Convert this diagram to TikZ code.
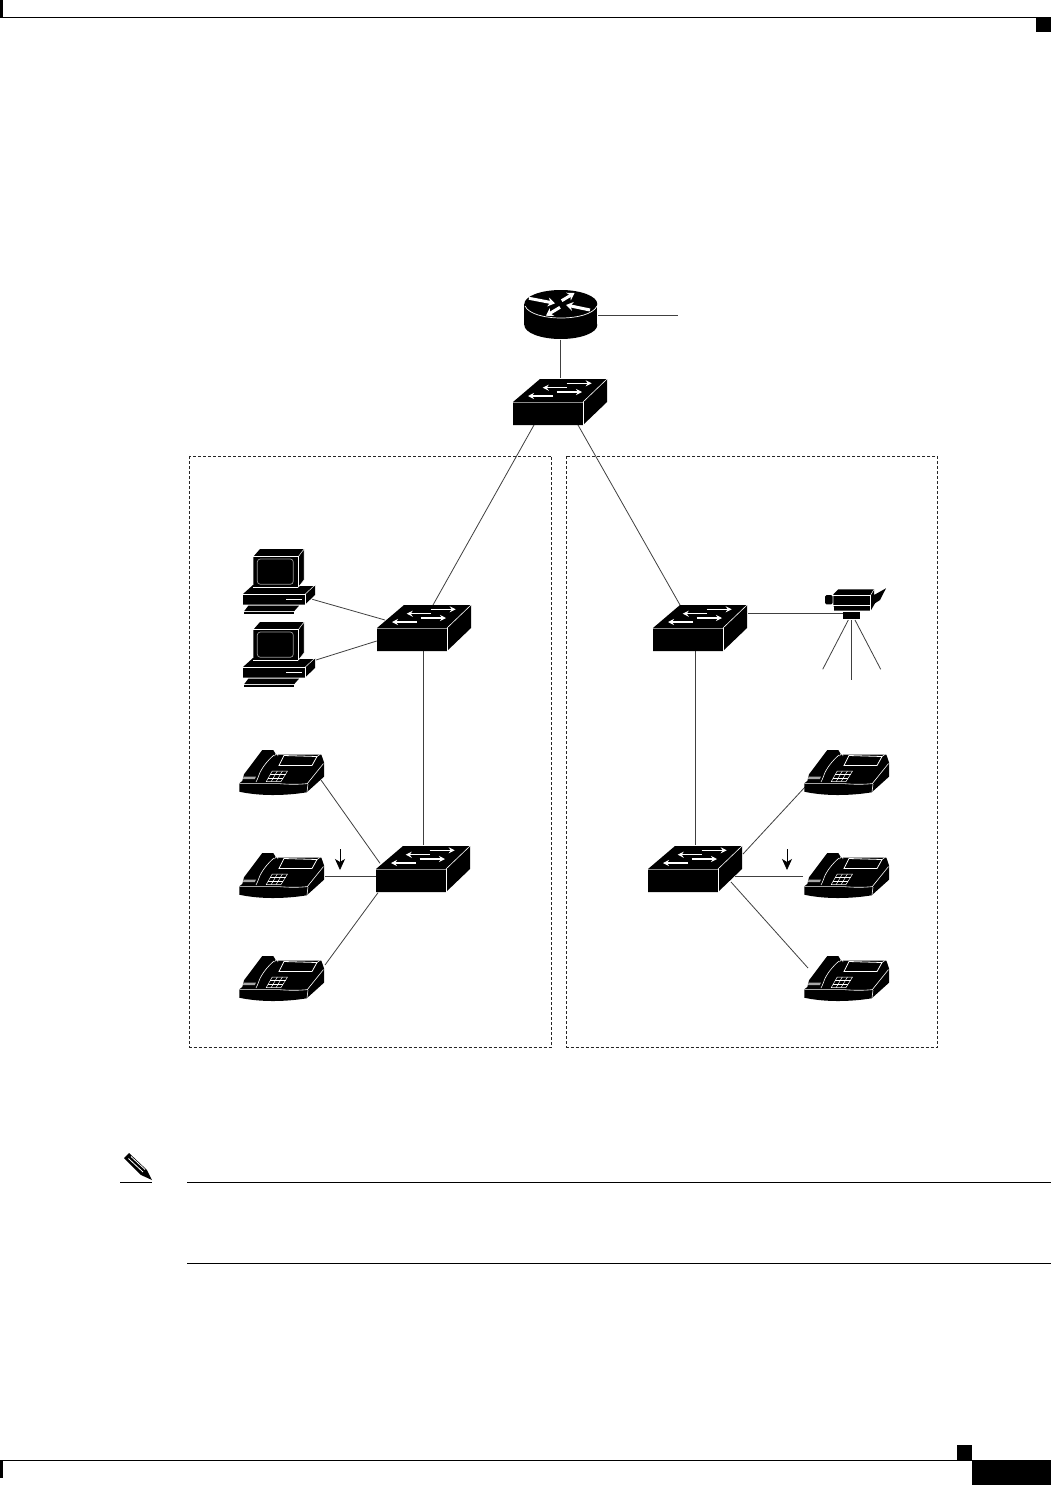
\documentclass[tikz,border=0pt]{standalone}
\usetikzlibrary{arrows.meta}
\tikzset{
  link/.style={draw=black!75,line width=0.8pt},
  zone/.style={draw=black!85,line width=0.6pt,dash pattern=on 3pt off 2pt},
  rule/.style={draw=black,line width=1.1pt},
  wedge/.style={white,line width=1.1pt,-{Stealth[length=6pt,width=6pt]}},
  bigwedge/.style={white,line width=3pt,-{Stealth[length=7pt,width=9pt]}},
  iconbox/.style={inner sep=0pt,outer sep=0pt,draw=none,fill=none},
  pics/swicon/.style={code={
    \fill[black] (0,0)--(27,-23)--(94,-23)--(94,0)--(70,23)--(0,23)--cycle;
    \draw[black!45,line width=.9pt] (0,0)--(70,0);
    \draw[white,line width=.6pt] (70,0)--(70,23);
    \draw[white,line width=.6pt] (70,0)--(94,-23);
    \draw[wedge] (53.7,-18.7)--(78.7,-18.7);
    \draw[wedge] (54,-14.3)--(29.7,-14.3);
    \draw[wedge] (43.7,-10)--(69,-10);
    \draw[wedge] (40,-6)--(15,-6);
  }},
  pics/pcicon/.style={code={
    % base
    \fill[black] (0,0)--(10,-9)--(72,-9)--(72,1)--(62,10.5)--(0,10.5)--cycle;
    \draw[white,line width=.5pt] (0,.3)--(62,.3)--(62,10.5);
    \draw[white,line width=.5pt] (62,.3)--(72,-9);
    \draw[white,line width=.5pt] (55,-9)--(72,-9);
    \fill[white] (43,5) rectangle (59.3,6.4);
    % monitor
    \fill[black] (10.3,-37.3)--(17,-45)--(61,-45)--(61,-14)--(55.3,-6.7)--(10.3,-6.7)--cycle;
    \draw[white,line width=.5pt] (10.3,-37.3)--(55.3,-37.3)--(55.3,-6.7);
    \draw[white,line width=.5pt] (55.3,-37.3)--(61,-45)--(61,-14)--(55.3,-6.7);
    \draw[white,line width=.5pt] (10.3,-6.7)--(55.3,-6.7);
    \draw[black!40,line width=.7pt,rounded corners=3pt] (14.3,-35) rectangle (50.3,-9.7);
    % keyboard
    \fill[black] (5.3,11.7)--(56,11.7)--(51.3,17)--(1.3,17)--cycle;
    \fill[black] (1.3,18.3) rectangle (51.3,19.7);
  }},
  pics/phoneicon/.style={code={
    \fill[black] (0.3,34.3)--(3.3,32)--(5,25.3)--(23.3,1)--(34.3,1)--(37,5.5)--(82.3,5.5)--(85,13.3)--(85,27.7)--(67.7,43.3)
       .. controls (45,47) and (20,47) .. (0.3,42.7)--cycle;
    \draw[white,line width=.6pt] (0.3,34.6)--(40,34.6) .. controls (50,35.5) and (60,35.5) .. (68.3,34.6)--(84.5,14.5);
    \draw[white,line width=.6pt] (69,35)--(68,43);
    \draw[white,line width=.6pt] (35,6) .. controls (28,12) and (22,20) .. (20,26) .. controls (19,29) and (18,31) .. (17,33);
    \fill[black!35] (4.5,27.5)--(17,27.5)--(15.8,30)--(4,30)--cycle;
    \draw[white,line width=.8pt,fill=black] (45,6.5)--(78,7.5)--(73,16.5)--(40,16.5)--cycle;
    \draw[white,line width=.5pt] (78,7.5)--(81,5.5);
    \draw[white,line width=.5pt] (35.5,7)--(38,3.5)--(39,7);
    \draw[white,line width=.5pt] (33.3,22)--(48.5,22)--(42,32.5)--(27.3,32.5)--cycle;
    \draw[white,line width=.5pt] (31,25.5)--(46.5,25.5) (29,29)--(44,29);
    \draw[white,line width=.5pt] (38.3,22)--(32.2,32.5) (43.4,22)--(37.1,32.5);
  }},
}
\begin{document}
\begin{tikzpicture}[x=1pt,y=-1pt]
\useasboundingbox (0,0) rectangle (1051,1485);
\fill[white] (0,0) rectangle (1051,1485);
% page furniture
\fill[black] (0,0) rectangle (3,17.8);
\draw[rule] (3,17.3)--(1051,17.3);
\fill[black] (1036,17) rectangle (1051,32);
\fill[black] (0,1460) rectangle (3,1478);
\draw[rule] (3,1460.5)--(972,1460.5);
\fill[black] (957,1445) rectangle (972,1460);
\fill[black] (972,1460) rectangle (1051,1485);
% note
\fill[black] (124,1158)--(129,1153)--(147,1170)--(152,1180)--(141,1175)--cycle;
\draw[white,line width=.8pt] (128.5,1158.5)--(143,1172);
\draw[white,line width=.8pt] (131,1156.5)--(145,1169.5);
\draw[rule] (120,1182.5)--(152,1182.5);
\draw[rule] (187,1182.5)--(1051,1182.5);
\draw[rule] (187,1263.5)--(1051,1263.5);
% zones
\draw[zone] (189.6,456) rectangle (551.6,1047);
\draw[zone] (566.6,456) rectangle (937.5,1047);
% icon holders
\node[iconbox,minimum width=73pt,minimum height=49pt] (router) at (561,315) {};
\node[iconbox,minimum width=94pt,minimum height=46pt] (sw1) at (560,402) {};
\node[iconbox,minimum width=94pt,minimum height=46pt] (sw2) at (424,628) {};
\node[iconbox,minimum width=94pt,minimum height=46pt] (sw3) at (423,869) {};
\node[iconbox,minimum width=94pt,minimum height=46pt] (sw4) at (700,628) {};
\node[iconbox,minimum width=94pt,minimum height=46pt] (sw5) at (695,869) {};
\node[iconbox,minimum width=72pt,minimum height=65pt] (pc1) at (279,581) {};
\node[iconbox,minimum width=72pt,minimum height=65pt] (pc2) at (279,654) {};
\node[iconbox,minimum width=85pt,minimum height=46pt] (ph1) at (281.5,772) {};
\node[iconbox,minimum width=85pt,minimum height=46pt] (ph2) at (281.5,875) {};
\node[iconbox,minimum width=85pt,minimum height=46pt] (ph3) at (281.5,978) {};
\node[iconbox,minimum width=85pt,minimum height=46pt] (ph4) at (846.5,772) {};
\node[iconbox,minimum width=85pt,minimum height=46pt] (ph5) at (846.5,875) {};
\node[iconbox,minimum width=85pt,minimum height=46pt] (ph6) at (846.5,978) {};
\node[iconbox,minimum width=61pt,minimum height=31pt] (cam) at (855,604) {};
% connector ports
\coordinate (rS) at (560.5,340); \coordinate (s1T) at (560.5,378);
\coordinate (rE) at (598,315); \coordinate (wan) at (678,315);
\coordinate (s1L) at (534,425); \coordinate (s2T) at (433,605);
\coordinate (s1R) at (578,425); \coordinate (s4T) at (680,605);
\coordinate (p1E) at (312.3,599.3); \coordinate (s2a) at (385,620);
\coordinate (p2E) at (316,660); \coordinate (s2b) at (376.7,641);
\coordinate (s2B) at (423.6,651); \coordinate (s3T) at (423.6,845);
\coordinate (f1E) at (321,780); \coordinate (s3a) at (380,863.3);
\coordinate (f2E) at (325,876.3); \coordinate (s3b) at (375.5,876.3);
\coordinate (f3E) at (325,965); \coordinate (s3c) at (378,892.7);
\coordinate (s4E) at (748,613.3); \coordinate (cP) at (843.3,613.3);
\coordinate (s4B) at (695.5,651); \coordinate (s5T) at (695.5,845);
\coordinate (f4W) at (805,787); \coordinate (s5a) at (743,854);
\coordinate (f5W) at (803,876.3); \coordinate (s5b) at (735,876.3);
\coordinate (f6W) at (808,968); \coordinate (s5c) at (731,882);
\coordinate (legT1) at (848.3,620); \coordinate (legE1) at (822.7,669.3);
\coordinate (legT2) at (851,620); \coordinate (legE2) at (851,680.3);
\coordinate (legT3) at (855,620); \coordinate (legE3) at (880.7,669.3);
% connectors
\draw[link] (rS)--(s1T);
\draw[link] (rE)--(wan);
\draw[link] (s1L)--(s2T);
\draw[link] (s1R)--(s4T);
\draw[link] (p1E)--(s2a);
\draw[link] (p2E)--(s2b);
\draw[link] (s2B)--(s3T);
\draw[link] (f1E)--(s3a);
\draw[link] (f2E)--(s3b);
\draw[link] (f3E)--(s3c);
\draw[link] (s4E)--(cP);
\draw[link] (s4B)--(s5T);
\draw[link] (f4W)--(s5a);
\draw[link] (f5W)--(s5b);
\draw[link] (f6W)--(s5c);
\draw[link] (legT1)--(legE1);
\draw[link] (legT2)--(legE2);
\draw[link] (legT3)--(legE3);
% router
\fill[black] (524.3,304) rectangle (597.3,325);
\fill[black] (560.8,325) ellipse[x radius=36.5,y radius=14];
\fill[black] (560.8,304) ellipse[x radius=36.5,y radius=14];
\draw[white,line width=.7pt] (525,306) .. controls (532,322) and (590,322) .. (597,306);
\draw[bigwedge] (529,298.3)--(555,303.3);
\draw[bigwedge] (561.7,300.7)--(574.5,293);
\draw[bigwedge] (590,310)--(566,305);
\draw[bigwedge] (560,307.3)--(546,315.7);
% switches
\pic at (513,402) {swicon};
\pic at (377,628) {swicon};
\pic at (376,869) {swicon};
\pic at (653,628) {swicon};
\pic at (648,869) {swicon};
% PCs
\pic at (243,594) {pcicon};
\pic at (243,667) {pcicon};
% phones
\pic at (239,749) {phoneicon};
\pic at (239,852) {phoneicon};
\pic at (239,955) {phoneicon};
\pic at (804,749) {phoneicon};
\pic at (804,852) {phoneicon};
\pic at (804,955) {phoneicon};
% down markers
\coordinate (mA) at (340,849); \coordinate (mAt) at (340,870);
\coordinate (mB) at (787,849); \coordinate (mBt) at (787,870);
\draw[black,line width=.8pt,-{Stealth[length=11pt,width=10pt,inset=3pt]}] (mA)--(mAt);
\draw[black,line width=.8pt,-{Stealth[length=11pt,width=10pt,inset=3pt]}] (mB)--(mBt);
% camera
\fill[black] (833.3,594.3)--(838.3,589.3)--(874,589.3)--(874,595)--(886,588.3)--(880,600)--(875,603.3)--(870.7,610.7)--(834,610.7)--(834,606.7)--(833.3,606)--cycle;
\draw[white,line width=.6pt] (833.3,594.8)--(870.7,594.8)--(870.7,610.7);
\draw[white,line width=.5pt] (870.7,594.8)--(874,589.5);
\draw[white,line width=.9pt] (833.3,605.6)--(870.7,605.6);
\fill[black,rounded corners=1.5pt] (825,595) rectangle (832.7,604.3);
\fill[black] (843.3,611.7) rectangle (860,619.3);
\end{tikzpicture}
\end{document}
